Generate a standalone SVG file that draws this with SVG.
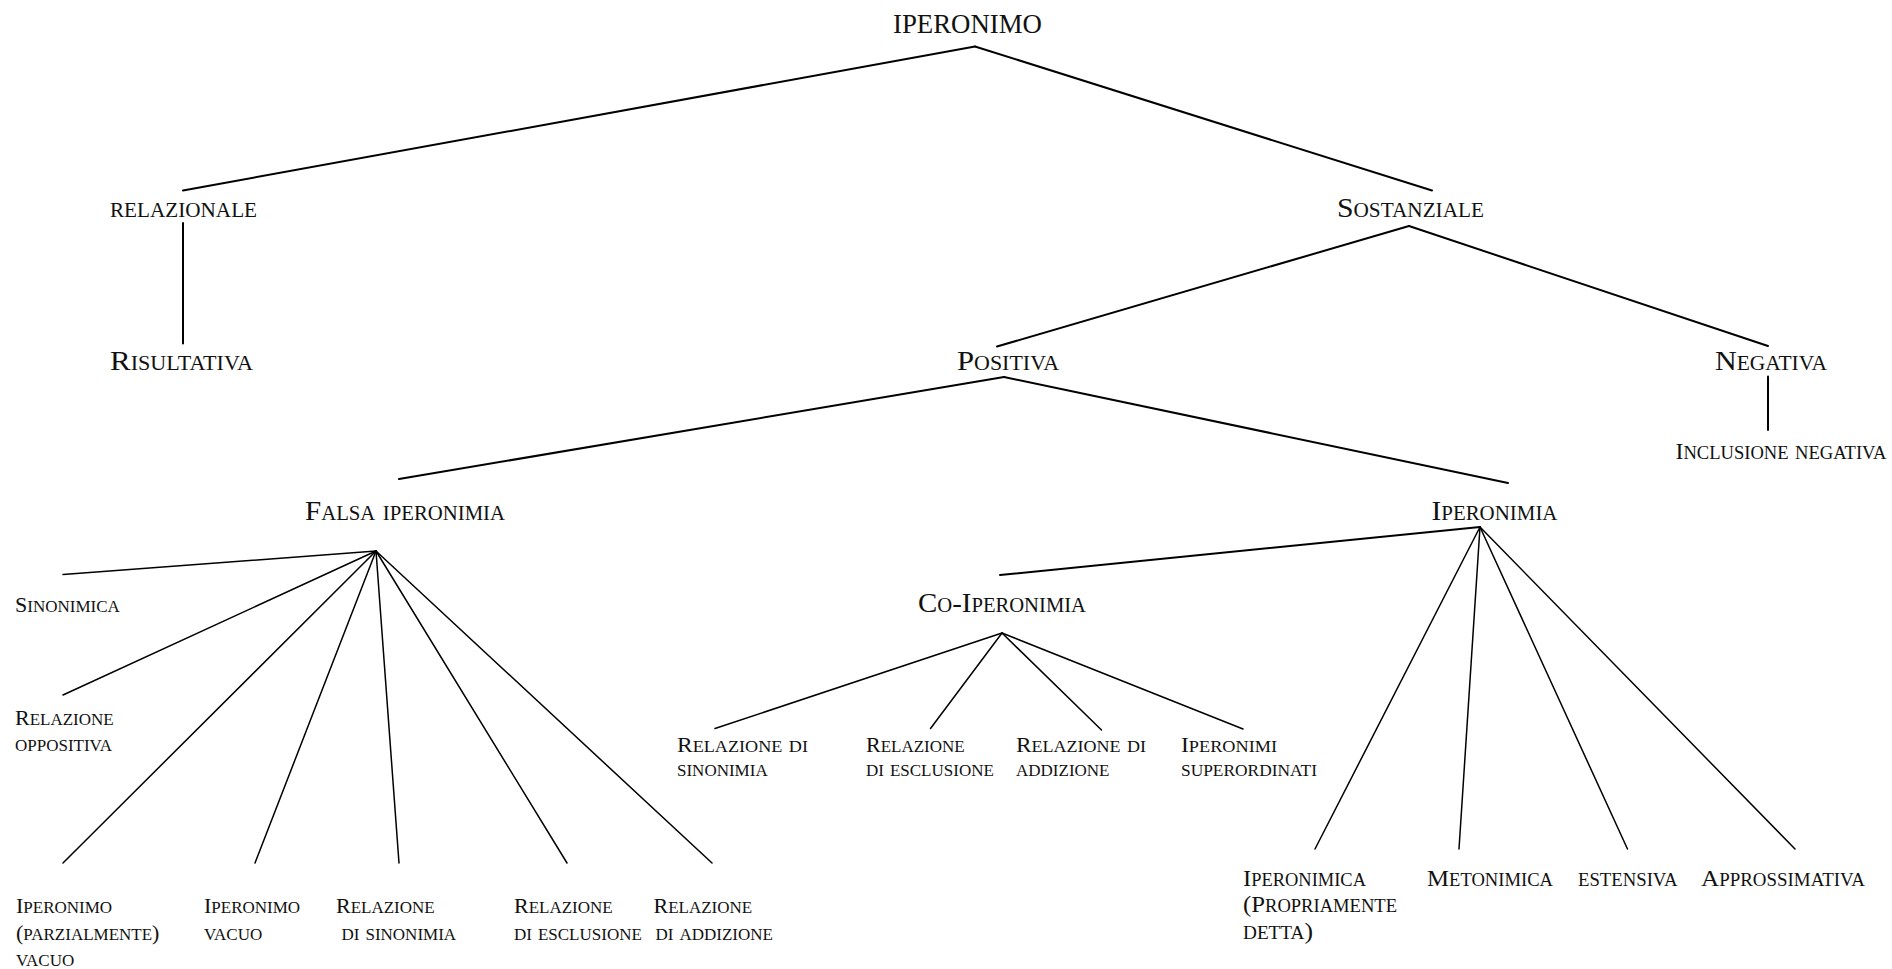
<svg xmlns="http://www.w3.org/2000/svg" width="1892" height="969" viewBox="0 0 1892 969">
  <style>
    text { font-family: "Liberation Serif", "Times New Roman", serif; fill: #111; font-variant: small-caps; }
    .top { font-size: 27px; font-variant: normal; }
    .n1 { font-size: 28px; }
    .s1 { font-size: 29px; }
    .n2 { font-size: 23px; }
    .s2n { font-size: 25px; }
    .lf { font-size: 22px; }
    .s2 { font-size: 24px; }
    .br { font-size: 24px; }
    .s3 { font-size: 26px; }
    .edge { stroke: #000; fill: none; stroke-linecap: round; }
    .main { stroke-width: 2; }
    .fan { stroke-width: 1.5; }
  </style>

  <!-- connectors -->
  <g id="connectors">
    <g class="edge main">
      <line x1="975" y1="46.5" x2="183" y2="190.5"/>
      <line x1="975" y1="46.5" x2="1432" y2="190.5"/>
      <line x1="183" y1="223" x2="183" y2="343.5"/>
      <line x1="1409" y1="226" x2="997" y2="346.5"/>
      <line x1="1409" y1="226" x2="1768" y2="346"/>
      <line x1="1768" y1="376.5" x2="1768" y2="430"/>
      <line x1="1004" y1="377" x2="399" y2="479"/>
      <line x1="1004" y1="377" x2="1508" y2="483"/>
      <line x1="1480" y1="527" x2="1000" y2="575"/>
    </g>
    <!-- fan under "Falsa iperonimia" -->
    <g class="edge fan">
      <line x1="376" y1="551" x2="63" y2="574.5"/>
      <line x1="376" y1="551" x2="63" y2="695"/>
      <line x1="376" y1="551" x2="63" y2="863"/>
      <line x1="376" y1="551" x2="255" y2="863"/>
      <line x1="376" y1="551" x2="399" y2="863"/>
      <line x1="376" y1="551" x2="567" y2="863"/>
      <line x1="376" y1="551" x2="712" y2="863"/>
    </g>
    <!-- fan under "Iperonimia" -->
    <g class="edge fan">
      <line x1="1480" y1="527" x2="1315" y2="849"/>
      <line x1="1480" y1="527" x2="1459" y2="849"/>
      <line x1="1480" y1="527" x2="1627.5" y2="849"/>
      <line x1="1480" y1="527" x2="1795" y2="849"/>
    </g>
    <!-- fan under "Co-Iperonimia" -->
    <g class="edge fan">
      <line x1="1002" y1="633" x2="715" y2="728.5"/>
      <line x1="1002" y1="633" x2="930.5" y2="728.5"/>
      <line x1="1002" y1="633" x2="1101.5" y2="730"/>
      <line x1="1002" y1="633" x2="1243" y2="729"/>
    </g>
  </g>

  <!-- upper levels -->
  <g id="iperonimo">
    <text class="top" x="893" y="33" textLength="149" lengthAdjust="spacingAndGlyphs">IPERONIMO</text>
  </g>
  <g id="relazionale">
    <text class="s1" x="110" y="216.5" textLength="147" lengthAdjust="spacingAndGlyphs">relazionale</text>
  </g>
  <g id="sostanziale">
    <text class="n1" x="1337" y="216.5" textLength="147" lengthAdjust="spacingAndGlyphs">S<tspan class="s1">ostanziale</tspan></text>
  </g>
  <g id="risultativa">
    <text class="n1" x="110" y="369.5" textLength="143" lengthAdjust="spacingAndGlyphs">R<tspan class="s1">isultativa</tspan></text>
  </g>
  <g id="positiva">
    <text class="n1" x="957" y="370" textLength="102" lengthAdjust="spacingAndGlyphs">P<tspan class="s1">ositiva</tspan></text>
  </g>
  <g id="negativa">
    <text class="n1" x="1715" y="370" textLength="112" lengthAdjust="spacingAndGlyphs">N<tspan class="s1">egativa</tspan></text>
  </g>
  <g id="inclusione-negativa">
    <text class="n2" x="1675.5" y="458.5" textLength="211" lengthAdjust="spacingAndGlyphs">I<tspan class="s2n">nclusione negativa</tspan></text>
  </g>
  <g id="falsa-iperonimia">
    <text class="n1" x="305" y="520" textLength="200" lengthAdjust="spacingAndGlyphs">F<tspan class="s1">alsa iperonimia</tspan></text>
  </g>
  <g id="iperonimia">
    <text class="n1" x="1431.5" y="520" textLength="126" lengthAdjust="spacingAndGlyphs">I<tspan class="s1">peronimia</tspan></text>
  </g>
  <g id="co-iperonimia">
    <text class="n1" x="918" y="611.5" textLength="168" lengthAdjust="spacingAndGlyphs">C<tspan class="s1">o</tspan>-I<tspan class="s1">peronimia</tspan></text>
  </g>

  <!-- kinds of false hyperonymy -->
  <g id="sinonimica">
    <text class="lf" x="15" y="612.3">S<tspan class="s2">inonimica</tspan></text>
  </g>
  <g id="relazione-oppositiva">
    <text class="lf" x="15" y="724.5">R<tspan class="s2">elazione</tspan></text>
    <text class="lf" x="15" y="751"><tspan class="s2">oppositiva</tspan></text>
  </g>
  <g id="iperonimo-parzialmente-vacuo">
    <text class="lf" x="16" y="913">I<tspan class="s2">peronimo</tspan></text>
    <text class="lf" x="16" y="940">(<tspan class="s2">parzialmente</tspan>)</text>
    <text class="lf" x="16" y="966"><tspan class="s2">vacuo</tspan></text>
  </g>
  <g id="iperonimo-vacuo">
    <text class="lf" x="204" y="913">I<tspan class="s2">peronimo</tspan></text>
    <text class="lf" x="204" y="940"><tspan class="s2">vacuo</tspan></text>
  </g>
  <g id="falsa-relazione-sinonimia">
    <text class="lf" x="336" y="913">R<tspan class="s2">elazione</tspan></text>
    <text class="lf" x="341.5" y="940"><tspan class="s2">di sinonimia</tspan></text>
  </g>
  <g id="falsa-relazione-esclusione">
    <text class="lf" x="514" y="913">R<tspan class="s2">elazione</tspan></text>
    <text class="lf" x="514" y="940"><tspan class="s2">di esclusione</tspan></text>
  </g>
  <g id="falsa-relazione-addizione">
    <text class="lf" x="653.5" y="913">R<tspan class="s2">elazione</tspan></text>
    <text class="lf" x="655.5" y="940"><tspan class="s2">di addizione</tspan></text>
  </g>

  <!-- kinds of co-hyperonymy -->
  <g id="co-relazione-sinonimia">
    <text class="lf" x="677" y="752" textLength="131" lengthAdjust="spacingAndGlyphs">R<tspan class="s2">elazione di</tspan></text>
    <text class="lf" x="677" y="776"><tspan class="s2">sinonimia</tspan></text>
  </g>
  <g id="co-relazione-esclusione">
    <text class="lf" x="866" y="752">R<tspan class="s2">elazione</tspan></text>
    <text class="lf" x="866" y="776"><tspan class="s2">di esclusione</tspan></text>
  </g>
  <g id="co-relazione-addizione">
    <text class="lf" x="1016" y="752" textLength="130" lengthAdjust="spacingAndGlyphs">R<tspan class="s2">elazione di</tspan></text>
    <text class="lf" x="1016" y="776"><tspan class="s2">addizione</tspan></text>
  </g>
  <g id="iperonimi-superordinati">
    <text class="lf" x="1181" y="752" textLength="96" lengthAdjust="spacingAndGlyphs">I<tspan class="s2">peronimi</tspan></text>
    <text class="lf" x="1181" y="776" textLength="136" lengthAdjust="spacingAndGlyphs"><tspan class="s2">superordinati</tspan></text>
  </g>

  <!-- kinds of hyperonymy proper -->
  <g id="iperonimica">
    <text class="br" x="1243" y="886" textLength="123" lengthAdjust="spacingAndGlyphs">I<tspan class="s3">peronimica</tspan></text>
    <text class="br" x="1243" y="912" textLength="154" lengthAdjust="spacingAndGlyphs">(P<tspan class="s3">ropriamente</tspan></text>
    <text class="br" x="1243" y="938.5" textLength="70" lengthAdjust="spacingAndGlyphs"><tspan class="s3">detta</tspan>)</text>
  </g>
  <g id="metonimica">
    <text class="br" x="1427" y="886" textLength="126" lengthAdjust="spacingAndGlyphs">M<tspan class="s3">etonimica</tspan></text>
  </g>
  <g id="estensiva">
    <text class="br" x="1578" y="886" textLength="99.5" lengthAdjust="spacingAndGlyphs"><tspan class="s3">estensiva</tspan></text>
  </g>
  <g id="approssimativa">
    <text class="br" x="1701" y="886" textLength="164" lengthAdjust="spacingAndGlyphs">A<tspan class="s3">pprossimativa</tspan></text>
  </g>
</svg>
